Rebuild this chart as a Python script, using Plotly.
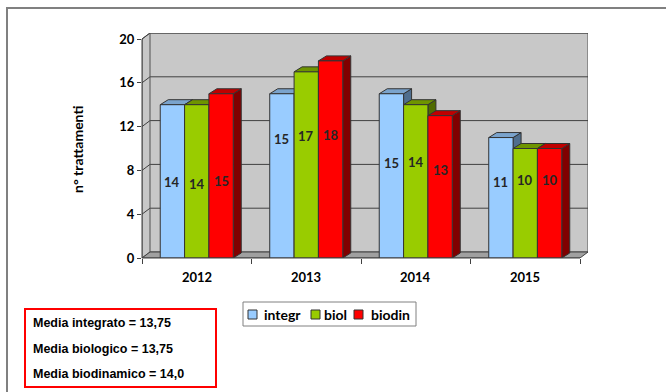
import plotly.graph_objects as go

# ---------------- data ----------------
years = ["2012", "2013", "2014", "2015"]
integr = [14, 15, 15, 11]
biol = [14, 17, 14, 10]
biodin = [15, 18, 13, 10]
series_names = ["integr", "biol", "biodin"]
y_ticks = [0, 4, 8, 12, 16, 20]
y_title = "n° trattamenti"
media_lines = ["Media integrato = 13,75", "Media biologico = 13,75", "Media biodinamico = 14,0"]

# data-label placement (axis units, as positioned in the original chart)
label_pos_integr = [6.9, 10.9, 8.7, 6.9]
label_pos_biol = [6.8, 11.1, 8.8, 7.1]
label_pos_biodin = [7.0, 11.25, 8.05, 7.1]

# ---------------- styling ----------------
front_cols = ["#99CCFF", "#99CC00", "#FF0000"]
top_cols = ["#7AA3CC", "#6E9400", "#C00000"]
side_cols = ["#4F6E8E", "#4F6B00", "#800000"]
FONT = "Lato"

# pixel geometry of plot area
W_, H_ = 666, 392
L, R, T, B = 142, 588, 33, 258
YMAX = 20
unit_x = 109.5
DX = (R - L) / unit_x - 4          # depth in x data units (~8px)
unit_y = (B - T - 6) / YMAX
DY = 6 / unit_y                    # depth in y data units (~6px)
dxb, dyb = DX, 5 / unit_y          # bar depth

def px2x(p):
    return (p - L) / (R - L)

def py2y(p):
    return (B - p) / (B - T)

BW = 0.2223
series = [integr, biol, biodin]
label_pos = [label_pos_integr, label_pos_biol, label_pos_biodin]
xs = list(range(len(years)))

fig = go.Figure()
shapes = []
annotations = []

# back + side wall
shapes.append(dict(type="path", xref="x", yref="y", layer="below",
                   path=f"M {-0.5},{0} L {-0.5},{YMAX} L {-0.5+DX},{YMAX+DY} L {3.5+DX},{YMAX+DY} L {3.5+DX},{DY} L {-0.5+DX},{DY} Z",
                   fillcolor="#C8C8C8", line=dict(color="#505050", width=1)))
# floor
shapes.append(dict(type="path", xref="x", yref="y", layer="below",
                   path=f"M {-0.5},{0} L {3.5},{0} L {3.5+DX},{DY} L {-0.5+DX},{DY} Z",
                   fillcolor="#A0A0A0", line=dict(color="#404040", width=1)))
# gridlines on walls
for v in y_ticks[1:]:
    shapes.append(dict(type="path", xref="x", yref="y", layer="below",
                       path=f"M {-0.5},{v} L {-0.5+DX},{v+DY} L {3.5+DX},{v+DY}",
                       line=dict(color="#404040", width=1)))
shapes.append(dict(type="line", xref="x", yref="y", layer="below",
                   x0=-0.5 + DX, x1=-0.5 + DX, y0=DY, y1=YMAX + DY,
                   line=dict(color="#505050", width=1)))

# bars
for k, (nm, vals) in enumerate(zip(series_names, series)):
    off = -1.5 * BW + k * BW
    fig.add_trace(go.Bar(
        x=xs, y=vals, name=nm, width=BW, offset=off,
        marker=dict(color=front_cols[k], line=dict(color="#333333", width=1)),
        showlegend=False, hoverinfo="skip"))
    for i in xs:
        annotations.append(dict(x=i + off + BW / 2, y=label_pos[k][i], xref="x", yref="y",
                                text=str(vals[i]), showarrow=False, xanchor="center", yanchor="middle",
                                font=dict(family=FONT, size=13, color="#262626", weight="bold")))

# 3D faces of bars (tops and sides), left to right
for i in xs:
    for k, vals in enumerate(series):
        v = vals[i]
        x0 = i - 1.5 * BW + k * BW
        x1 = x0 + BW
        shapes.append(dict(type="path", xref="x", yref="y", layer="below",
                           path=f"M {x1},{0} L {x1},{v} L {x1+dxb},{v+dyb} L {x1+dxb},{dyb} Z",
                           fillcolor=side_cols[k], line=dict(color="#333333", width=1)))
        shapes.append(dict(type="path", xref="x", yref="y", layer="below",
                           path=f"M {x0},{v} L {x0+dxb},{v+dyb} L {x1+dxb},{v+dyb} L {x1},{v} Z",
                           fillcolor=top_cols[k], line=dict(color="#333333", width=1)))

# front axes lines
shapes.append(dict(type="line", xref="paper", yref="y", x0=0, x1=0, y0=0, y1=YMAX,
                   line=dict(color="#404040", width=1)))
shapes.append(dict(type="line", xref="x", yref="paper", x0=-0.5, x1=3.5, y0=0, y1=0,
                   line=dict(color="#404040", width=1)))

# outer frame
shapes.append(dict(type="rect", xref="paper", yref="paper",
                   x0=px2x(7), x1=px2x(720), y0=py2y(8), y1=py2y(420),
                   line=dict(color="#808080", width=2), fillcolor="rgba(0,0,0,0)"))

# category labels
for i, yr in enumerate(years):
    annotations.append(dict(x=i, y=py2y(277), xref="x", yref="paper", text=yr, showarrow=False,
                            font=dict(family=FONT, size=13, color="#000000", weight="bold"),
                            xanchor="center", yanchor="middle"))
# y title
annotations.append(dict(x=px2x(77), y=py2y(150), xref="paper", yref="paper", text=y_title,
                        showarrow=False, textangle=-90,
                        font=dict(family=FONT, size=14, color="#000000", weight="bold"),
                        xanchor="center", yanchor="middle"))

# custom legend
shapes.append(dict(type="rect", xref="paper", yref="paper",
                   x0=px2x(243), x1=px2x(416), y0=py2y(302), y1=py2y(326),
                   line=dict(color="#808080", width=1), fillcolor="white"))
leg_sq = [248, 311, 354]
leg_tx = [262, 322, 369]
for k, nm in enumerate(series_names):
    shapes.append(dict(type="rect", xref="paper", yref="paper",
                       x0=px2x(leg_sq[k]), x1=px2x(leg_sq[k] + 9), y0=py2y(310), y1=py2y(319),
                       line=dict(color="#333333", width=1), fillcolor=front_cols[k]))
    annotations.append(dict(x=px2x(leg_tx[k]), y=py2y(314.5), xref="paper", yref="paper", text=nm,
                            showarrow=False, xanchor="left", yanchor="middle",
                            font=dict(family=FONT, size=14, color="#000000", weight="bold")))

# media text box
shapes.append(dict(type="rect", xref="paper", yref="paper",
                   x0=px2x(25), x1=px2x(216), y0=py2y(309), y1=py2y(387),
                   line=dict(color="#FF0000", width=2), fillcolor="white"))
for j, (txt, yy) in enumerate(zip(media_lines, [323, 348.5, 374])):
    annotations.append(dict(x=px2x(31), y=py2y(yy), xref="paper", yref="paper", text=txt,
                            showarrow=False, xanchor="left", yanchor="middle",
                            font=dict(family="Liberation Sans", size=12.5, color="#000000", weight="bold")))

fig.update_layout(
    width=W_, height=H_,
    margin=dict(l=L, r=W_ - R, t=T, b=H_ - B, pad=0),
    paper_bgcolor="white", plot_bgcolor="rgba(0,0,0,0)",
    barmode="overlay", showlegend=False,
    xaxis=dict(range=[-0.5, 3.5 + DX], tickvals=[-0.5, 0.5, 1.5, 2.5, 3.5], showticklabels=False,
               ticks="outside", ticklen=5, tickcolor="#404040", showgrid=False, zeroline=False,
               showline=False, fixedrange=True),
    yaxis=dict(range=[0, YMAX + DY], tickvals=y_ticks, ticks="outside", ticklen=4, tickcolor="#404040",
               showgrid=False, zeroline=False, showline=False,
               tickfont=dict(family=FONT, size=13, color="#000000", weight="bold"), fixedrange=True),
    shapes=shapes, annotations=annotations,
)

fig.write_html("out.html")
